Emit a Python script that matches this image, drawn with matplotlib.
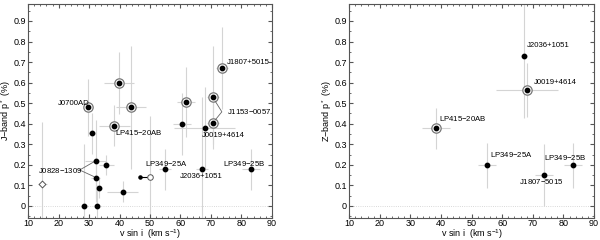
import matplotlib
matplotlib.use("Agg")
import matplotlib.pyplot as plt
from matplotlib.ticker import MultipleLocator

plt.rcParams['font.family'] = ['Liberation Sans', 'DejaVu Sans']
plt.rcParams['mathtext.fontset'] = 'custom'
plt.rcParams['mathtext.rm'] = 'Liberation Sans'

#---Left panel (J band): filled points
j_x = [30.8, 32.2, 35.7, 32.2, 33.4, 41.0, 28.2, 32.5, 60.4, 68.0, 54.9, 67.0, 83.1]
j_y = [0.353, 0.22, 0.20, 0.138, 0.089, 0.07, 0.0, 0.0, 0.399, 0.381, 0.178, 0.178, 0.178]
j_xerr = [1.0, 3.5, 2.5, 1.5, 1.0, 5.0, 1.0, 1.0, 3.0, 10.0, 2.0, 2.0, 3.0]
j_yerr = [0.10, 0.20, 0.05, 0.10, 0.05, 0.05, 0.30, 0.10, 0.15, 0.20, 0.10, 0.35, 0.10]
#---Left panel: ringed points
jr_x = [29.8, 39.8, 43.7, 38.3, 61.8, 70.8, 70.8, 73.6]
jr_y = [0.48, 0.597, 0.48, 0.39, 0.507, 0.528, 0.402, 0.67]
jr_xerr = [1.5, 5.0, 5.0, 5.0, 3.0, 2.0, 2.0, 2.0]
jr_yerr = [0.14, 0.15, 0.30, 0.10, 0.17, 0.25, 0.10, 0.20]
#---Left panel: open symbols
jd_x, jd_y, jd_xerr, jd_yerr = 14.6, 0.107, 1.5, 0.30
jo_x, jo_y, jo_yerr, jo_lim = 50.0, 0.14, 0.30, 46.7

#---Right panel (Z band)
z_x = [67.2, 55.0, 73.7, 83.2]
z_y = [0.729, 0.197, 0.152, 0.197]
z_xerr = [1.0, 3.0, 3.0, 3.0]
z_yerr = [0.30, 0.11, 0.15, 0.11]
zr_x = [38.4, 68.1]
zr_y = [0.377, 0.565]
zr_xerr = [4.6, 10.0]
zr_yerr = [0.10, 0.13]

#---Labels: (text, x, y)
j_labels = [("J0700AD", 19.6, 0.50), ("J0828$-$1309", 13.3, 0.175),
            ("LP415$-$20AB", 38.5, 0.357), ("LP349$-$25A", 48.3, 0.207),
            ("J2036+1051", 59.8, 0.142), ("J0019+4614", 67.1, 0.345),
            ("J1153$-$0057", 75.2, 0.458), ("J1807+5015", 75.2, 0.697),
            ("LP349$-$25B", 74.1, 0.207)]
z_labels = [("LP415$-$20AB", 39.2, 0.427), ("J2036+1051", 68.1, 0.78),
            ("J0019+4614", 70.3, 0.60), ("LP349$-$25A", 56.1, 0.25),
            ("J1807$-$5015", 65.4, 0.12), ("LP349$-$25B", 73.8, 0.234)]

ecol = "#d4d4d4"
fs = 6.5
lfs = 5.6

fig = plt.figure(figsize=(6, 2.4), dpi=100)
ax1 = fig.add_axes([0.047, 0.092, 0.406, 0.891])
ax2 = fig.add_axes([0.582, 0.092, 0.408, 0.891])


def style_axes(ax, ylabel):
    ax.set_xlim(10, 90)
    ax.set_ylim(-0.058, 0.982)
    ax.xaxis.set_major_locator(MultipleLocator(10))
    ax.xaxis.set_minor_locator(MultipleLocator(2))
    ax.yaxis.set_minor_locator(MultipleLocator(0.05))
    ax.tick_params(which="both", direction="in", top=True, right=True,
                   labelsize=fs, color="#555555", pad=1.5)
    ax.tick_params(axis="x", pad=1)
    ax.tick_params(which="major", length=3)
    ax.tick_params(which="minor", length=1.5)
    ax.set_yticks([0, 0.1, 0.2, 0.3, 0.4, 0.5, 0.6, 0.7, 0.8, 0.9])
    ax.set_yticklabels(["0", "0.1", "0.2", "0.3", "0.4", "0.5", "0.6", "0.7", "0.8", "0.9"])
    ax.set_xlabel("v sin i  (km s$^{-1}$)", fontsize=fs, labelpad=-1)
    ax.set_ylabel(ylabel, fontsize=fs, labelpad=0)
    for s in ax.spines.values():
        s.set_color("#555555")
        s.set_linewidth(0.8)
    ax.axhline(0, color="#cccccc", lw=0.6, ls=":", zorder=0)


def ringed(ax, x, y, xe, ye):
    ax.errorbar(x, y, xerr=xe, yerr=ye, fmt="none", ecolor=ecol, elinewidth=0.8, zorder=1)
    ax.scatter(x, y, s=45, facecolor="white", edgecolor="#777777", linewidth=0.9, zorder=2)
    ax.scatter(x, y, s=10, color="black", zorder=3)


def filled(ax, x, y, xe, ye):
    ax.errorbar(x, y, xerr=xe, yerr=ye, fmt="none", ecolor=ecol, elinewidth=0.8, zorder=1)
    ax.scatter(x, y, s=10, color="black", zorder=3)


#---Left panel
style_axes(ax1, "J$-$band p$^*$ (%)")
filled(ax1, j_x, j_y, j_xerr, j_yerr)
ringed(ax1, jr_x, jr_y, jr_xerr, jr_yerr)
ax1.errorbar(jd_x, jd_y, xerr=jd_xerr, yerr=jd_yerr, fmt="none", ecolor=ecol, elinewidth=0.8, zorder=1)
ax1.scatter(jd_x, jd_y, s=12, marker="D", facecolor="white", edgecolor="#555555", linewidth=0.7, zorder=3)
ax1.errorbar(jo_x, jo_y, yerr=jo_yerr, fmt="none", ecolor=ecol, elinewidth=0.8, zorder=1)
ax1.plot([jo_lim, jo_x], [jo_y, jo_y], color="black", lw=0.8, zorder=2)
ax1.scatter(jo_lim, jo_y, s=5, color="black", zorder=3)
ax1.scatter(jo_x, jo_y, s=16, facecolor="white", edgecolor="#555555", linewidth=0.7, zorder=3)
for t, x, y in j_labels:
    ax1.text(x, y, t, fontsize=lfs, va="center")
#---connector lines for shared labels
ax1.plot([26.9, 31.6], [0.175, 0.215], color="#666666", lw=0.6)
ax1.plot([26.9, 31.6], [0.175, 0.143], color="#666666", lw=0.6)
ax1.plot([71.4, 73.6, 71.4], [0.51, 0.458, 0.418], color="#666666", lw=0.6)

#---Right panel
style_axes(ax2, "Z$-$band p$^*$ (%)")
filled(ax2, z_x, z_y, z_xerr, z_yerr)
ringed(ax2, zr_x, zr_y, zr_xerr, zr_yerr)
for t, x, y in z_labels:
    ax2.text(x, y, t, fontsize=lfs, va="center")

plt.savefig("out.png", dpi=100)
